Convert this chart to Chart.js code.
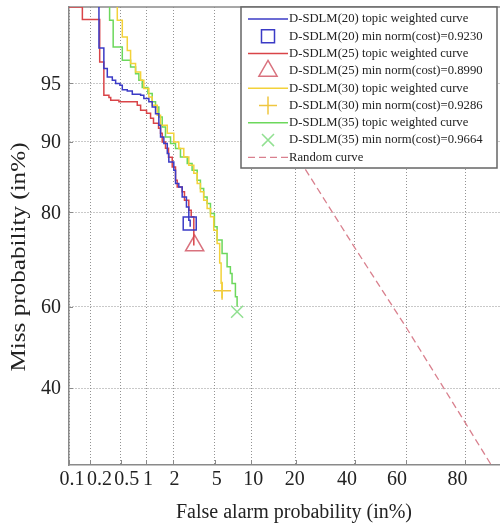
<!DOCTYPE html>
<html>
<head>
<meta charset="utf-8">
<script src="https://cdn.jsdelivr.net/npm/chart.js@4.4.1/dist/chart.umd.min.js"></script>
<style>
  html, body { margin: 0; padding: 0; background: #fff; }
  #wrap { width: 500px; height: 526px; position: relative; }
</style>
</head>
<body>
<div id="wrap"><canvas id="detChart"></canvas></div>
<script>
// tick labels (in %)
const faTicks = [0.1, 0.2, 0.5, 1, 2, 5, 10, 20, 40, 60, 80];
const missTicks = [40, 60, 80, 90, 95];

// D-SDLM(20) topic weighted curve (false alarm %, miss %)
const fa20 = [0.261, 0.261, 0.303, 0.336, 0.39, 0.43, 0.487, 0.521, 0.60, 0.69, 0.866, 0.944, 1.078, 1.176, 1.281, 1.394, 1.455, 1.58, 1.72, 1.786, 2.015, 2.10, 2.27, 2.456, 2.71, 2.86, 2.95];
const miss20 = [99.5, 96.89, 95.88, 95.39, 95.19, 94.98, 94.88, 94.58, 94.49, 94.26, 94.18, 93.95, 93.69, 93.29, 92.73, 91.68, 90.50, 89.80, 88.65, 87.60, 86.52, 84.64, 84.13, 82.56, 80.92, 78.59, 77.4];

// D-SDLM(25)
const fa25 = [0.10, 0.155, 0.267, 0.303, 0.353, 0.372, 0.473, 0.791, 0.866, 1.014, 1.127, 1.216, 1.383, 1.455, 1.517, 1.646, 1.773, 1.94, 2.10, 2.185, 2.456, 2.59, 2.86, 3.02, 3.20];
const miss25 = [98.3, 97.94, 96.23, 94.18, 94.02, 93.81, 93.69, 93.42, 93.02, 92.76, 92.32, 91.86, 91.39, 90.89, 89.97, 89.27, 88.18, 86.95, 85.11, 84.13, 83.38, 82.03, 80.37, 79.19, 73.7];

// D-SDLM(30)
const fa30 = [0.451, 0.451, 0.521, 0.60, 0.658, 0.755, 0.866, 0.944, 1.078, 1.176, 1.338, 1.455, 1.72, 2.015, 2.27, 2.55, 2.86, 3.20, 3.45, 3.70, 3.97, 4.27, 4.58, 4.90, 5.25, 5.53, 5.69, 5.80];
const miss30 = [99.5, 97.92, 97.34, 96.78, 96.15, 95.68, 95.19, 94.65, 94.06, 93.42, 92.59, 91.68, 90.89, 89.97, 89.24, 88.22, 87.18, 86.08, 84.64, 83.38, 82.03, 80.65, 79.19, 76.73, 74.12, 70.02, 65.5, 62.06];

// D-SDLM(35)
const fa35 = [0.360, 0.360, 0.40, 0.521, 0.658, 0.755, 0.826, 0.905, 1.05, 1.176, 1.281, 1.394, 1.517, 1.646, 1.862, 2.10, 2.36, 2.76, 3.08, 3.45, 3.70, 3.97, 4.27, 4.58, 4.97, 5.25, 5.80, 6.40, 6.82, 7.04, 7.50, 7.74];
const miss35 = [99.5, 97.92, 96.93, 96.31, 95.96, 95.59, 95.19, 94.72, 94.31, 93.69, 93.29, 92.44, 91.51, 90.50, 89.80, 89.24, 88.22, 87.40, 86.52, 85.11, 83.89, 82.56, 81.49, 79.79, 77.37, 74.80, 72.07, 69.22, 67.76, 65.47, 62.36, 59.99];

// min norm(cost) points: 20, 25, 30, 35
const topics = [20, 25, 30, 35];
const minCost = ['0.9230', '0.8990', '0.9286', '0.9664'];
const minFa = [2.92, 3.26, 5.80, 7.74];
const minMiss = [78.0, 73.7, 63.8, 58.8];

// random curve
const randomFa = [15, 40, 60, 80, 90];
const randomMiss = [91.9, 73.2, 55.0, 31.9, 17.9];

// normal deviate (probit) of a percentage - Acklam's approximation
function probit(pct) {
    const p = pct / 100;
    const a = [-3.969683028665376e+01, 2.209460984245205e+02, -2.759285104469687e+02, 1.383577518672690e+02, -3.066479806614716e+01, 2.506628277459239e+00];
    const b = [-5.447609879822406e+01, 1.615858368580409e+02, -1.556989798598866e+02, 6.680131188771972e+01, -1.328068155288572e+01];
    const c = [-7.784894002430293e-03, -3.223964580411365e-01, -2.400758277161838e+00, -2.549732539343734e+00, 4.374664141464968e+00, 2.938163982698783e+00];
    const d = [7.784695709041462e-03, 3.224671290700398e-01, 2.445134137142996e+00, 3.754408661907416e+00];
    const lo = 0.02425;
    if (p < lo) {
        const q = Math.sqrt(-2 * Math.log(p));
        return (((((c[0]*q+c[1])*q+c[2])*q+c[3])*q+c[4])*q+c[5]) / ((((d[0]*q+d[1])*q+d[2])*q+d[3])*q+1);
    }
    if (p > 1 - lo) {
        const q = Math.sqrt(-2 * Math.log(1 - p));
        return -(((((c[0]*q+c[1])*q+c[2])*q+c[3])*q+c[4])*q+c[5]) / ((((d[0]*q+d[1])*q+d[2])*q+d[3])*q+1);
    }
    const q = p - 0.5, r = q * q;
    return (((((a[0]*r+a[1])*r+a[2])*r+a[3])*r+a[4])*r+a[5])*q / (((((b[0]*r+b[1])*r+b[2])*r+b[3])*r+b[4])*r+1);
}

const pts = (fa, miss) => fa.map((v, i) => ({ x: probit(v), y: probit(miss[i]) }));

const SERIF = '"Liberation Serif", "Times New Roman", serif';
const curveColors = ['#3b3bc6', '#d94448', '#f3d23a', '#6cd85c'];
const markColors = ['#3b3bc6', '#d9727e', '#efc640', '#92e092'];
const markStyles = ['rect', 'triangle', 'cross', 'crossRot'];
const markRadius = [9.2, 10.5, 9, 8.5];
const curves = [[fa20, miss20], [fa25, miss25], [fa30, miss30], [fa35, miss35]];

const datasets = [];
topics.forEach((t, i) => {
    datasets.push({
        label: `D-SDLM(${t}) topic weighted curve`,
        data: pts(curves[i][0], curves[i][1]),
        borderColor: curveColors[i],
        borderWidth: 1.5,
        pointRadius: 0,
        stepped: 'before',
        fill: false
    });
    datasets.push({
        label: `D-SDLM(${t}) min norm(cost)=${minCost[i]}`,
        data: [{ x: probit(minFa[i]), y: probit(minMiss[i]) }],
        showLine: false,
        borderColor: markColors[i],
        backgroundColor: 'rgba(0,0,0,0)',
        borderWidth: 1.5,
        pointStyle: markStyles[i],
        pointRadius: markRadius[i],
        pointBorderWidth: 1.5
    });
});
datasets.push({
    label: 'Random curve',
    data: pts(randomFa, randomMiss),
    borderColor: '#d9808e',
    borderWidth: 1.3,
    borderDash: [7, 4],
    pointRadius: 0,
    fill: false
});

// nudges for the crowded x tick labels (px)
const xLabelNudge = [3, 9, 6, 2, 1, 2, 2, -1, -8, -9, -8];

const decor = {
    id: 'detDecor',
    beforeDatasetsDraw(chart) {
        const { ctx, chartArea: a, scales: { x, y } } = chart;
        ctx.save();
        // top frame
        ctx.strokeStyle = '#8a8a8a';
        ctx.lineWidth = 1.5;
        ctx.beginPath();
        ctx.moveTo(a.left, a.top);
        ctx.lineTo(a.right, a.top);
        ctx.stroke();
        // short inward tick marks
        ctx.lineWidth = 1;
        ctx.beginPath();
        faTicks.forEach(v => {
            const px = Math.round(x.getPixelForValue(probit(v))) + 0.5;
            ctx.moveTo(px, a.bottom);
            ctx.lineTo(px, a.bottom - 5);
        });
        missTicks.forEach(v => {
            const py = Math.round(y.getPixelForValue(probit(v))) + 0.5;
            ctx.moveTo(a.left, py);
            ctx.lineTo(a.left + 4, py);
        });
        ctx.stroke();
        // tick labels
        ctx.fillStyle = '#222';
        ctx.font = '20px ' + SERIF;
        ctx.textAlign = 'center';
        ctx.textBaseline = 'middle';
        faTicks.forEach((v, i) => {
            ctx.fillText(String(v), x.getPixelForValue(probit(v)) + xLabelNudge[i], 480);
        });
        ctx.textAlign = 'right';
        missTicks.forEach(v => {
            ctx.fillText(String(v), a.left - 8, y.getPixelForValue(probit(v)) + 1);
        });
        // axis titles
        ctx.textAlign = 'center';
        ctx.fillText('False alarm probability (in%)', 294, 513);
        const yTitle = 'Miss probability (in%)';
        ctx.translate(20, 257);
        ctx.rotate(-Math.PI / 2);
        const w = ctx.measureText(yTitle).width;
        ctx.scale(229 / w, 1);
        ctx.fillText(yTitle, 0, 0);
        ctx.restore();
    },
    afterDatasetsDraw(chart) {
        const ctx = chart.ctx;
        const L = 241, T = 7, R = 497, B = 168;
        ctx.save();
        ctx.fillStyle = '#fff';
        ctx.fillRect(L, T, R - L, B - T);
        ctx.strokeStyle = '#666';
        ctx.lineWidth = 1.5;
        ctx.strokeRect(L, T, R - L, B - T);
        ctx.font = '12.7px ' + SERIF;
        ctx.textBaseline = 'middle';
        ctx.textAlign = 'left';
        chart.data.datasets.forEach((ds, i) => {
            const cy = 19 + i * 17.3;
            ctx.strokeStyle = ds.borderColor;
            ctx.lineWidth = ds.borderWidth;
            if (ds.showLine === false) {
                ctx.setLineDash([]);
                ctx.fillStyle = 'rgba(0,0,0,0)';
                Chart.helpers.drawPoint(ctx, {
                    pointStyle: ds.pointStyle, radius: ds.pointRadius, rotation: 0, borderWidth: ds.borderWidth
                }, 268, cy);
            } else {
                ctx.setLineDash(ds.borderDash || []);
                ctx.beginPath();
                ctx.moveTo(248, cy);
                ctx.lineTo(288, cy);
                ctx.stroke();
            }
            ctx.setLineDash([]);
            ctx.fillStyle = '#222';
            ctx.fillText(ds.label, 289, cy);
        });
        ctx.restore();
    }
};

new Chart(document.getElementById('detChart'), {
    type: 'line',
    data: { datasets },
    plugins: [decor],
    options: {
        responsive: true,
        maintainAspectRatio: false,
        animation: false,
        events: [],
        layout: { autoPadding: false, padding: { top: 7, right: 0, bottom: 0, left: 0 } },
        plugins: { legend: { display: false }, tooltip: { enabled: false } },
        scales: {
            x: {
                type: 'linear',
                min: probit(0.1),
                max: probit(88.2),
                afterBuildTicks: s => { s.ticks = faTicks.map(v => ({ value: probit(v) })); },
                afterFit: s => { s.height = 61; },
                ticks: { display: false },
                grid: { color: 'rgba(120,120,120,0.8)', lineWidth: 1, drawTicks: false },
                border: { display: true, color: '#8a8a8a', width: 1.5, dash: [1, 2] }
            },
            y: {
                type: 'linear',
                min: probit(23.2),
                max: probit(98.3),
                afterBuildTicks: s => { s.ticks = missTicks.map(v => ({ value: probit(v) })); },
                afterFit: s => { s.width = 69; },
                ticks: { display: false },
                grid: { color: 'rgba(120,120,120,0.8)', lineWidth: 1, drawTicks: false },
                border: { display: true, color: '#8a8a8a', width: 1.5, dash: [1, 2] }
            }
        }
    }
});
</script>
</body>
</html>
